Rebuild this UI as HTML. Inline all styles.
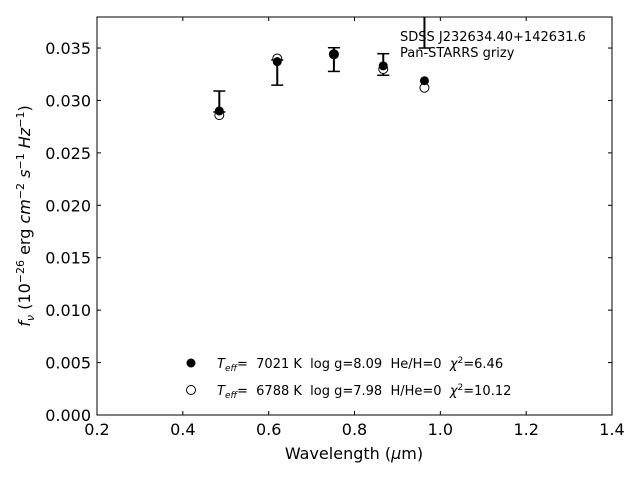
<!DOCTYPE html>
<html><head><meta charset="utf-8"><style>
body{margin:0;background:#fff}
svg{font-family:"DejaVu Sans","Liberation Sans",sans-serif}
text{white-space:pre}
</style></head><body>
<svg id="chart" width="640" height="480">
<rect x="0" y="0" width="640" height="480" fill="#fff"/>
<g id="marks"></g>
<rect x="97" y="17" width="515" height="398" fill="none" stroke="#000" stroke-width="1"/>
<g id="ticks"></g>
<text x="354" y="459" font-size="16" text-anchor="middle">Wavelength (<tspan font-style="italic">μ</tspan>m)</text>
<text transform="translate(30,216) rotate(-90)" font-size="16" text-anchor="middle"><tspan font-style="italic">f</tspan><tspan font-style="italic" font-size="11" dy="4">ν</tspan><tspan dy="-4"> (10</tspan><tspan font-size="11" dy="-6">−26</tspan><tspan dy="6"> erg </tspan><tspan font-style="italic">cm</tspan><tspan font-size="11" dy="-6">−2</tspan><tspan dy="6"> </tspan><tspan font-style="italic">s</tspan><tspan font-size="11" dy="-6">−1</tspan><tspan dy="6"> </tspan><tspan font-style="italic">Hz</tspan><tspan font-size="11" dy="-6">−1</tspan><tspan dy="6">)</tspan></text>
<text x="400" y="41" font-size="13">SDSS J232634.40+142631.6</text>
<text x="400" y="57" font-size="13">Pan-STARRS grizy</text>
<g>
<circle cx="191" cy="363" r="4.5" fill="#000"/>
<text x="217" y="368" font-size="13"><tspan font-style="italic">T</tspan><tspan font-style="italic" font-size="9" dy="3">eff</tspan><tspan dy="-3">=  7021 K  log g=8.09  He/H=0  </tspan><tspan font-style="italic">χ</tspan><tspan font-size="9" dy="-5">2</tspan><tspan dy="5">=6.46</tspan></text>
<circle cx="191" cy="390" r="4.5" fill="#fff" stroke="#000"/>
<text x="217" y="395" font-size="13"><tspan font-style="italic">T</tspan><tspan font-style="italic" font-size="9" dy="3">eff</tspan><tspan dy="-3">=  6788 K  log g=7.98  H/He=0  </tspan><tspan font-style="italic">χ</tspan><tspan font-size="9" dy="-5">2</tspan><tspan dy="5">=10.12</tspan></text>
</g>
</svg>
<script>
const wavelengths=[0.485,0.620,0.752,0.867,0.963];
const obsFlux=[0.0299,0.03266,0.0339,0.03343,0.0380];
const obsErr=[0.0010,0.0012,0.00113,0.00103,0.0030];
const modelHe=[0.0290,0.0337,0.03445,0.0333,0.03188];
const modelH=[0.0286,0.0340,0.0344,0.0330,0.03121];
const xTicks=[0.2,0.4,0.6,0.8,1.0,1.2,1.4];
const yTicks=[0,0.005,0.010,0.015,0.020,0.025,0.030,0.035];
const X0=97,X1=612,Y0=415,Y1=17,XMIN=0.2,XMAX=1.4,YMIN=0,YMAX=0.03796;
const sx=v=>X0+(v-XMIN)/(XMAX-XMIN)*(X1-X0);
const sy=v=>Y0-(v-YMIN)/(YMAX-YMIN)*(Y0-Y1);
const NS='http://www.w3.org/2000/svg';
function mk(p,t,a){const e=document.createElementNS(NS,t);for(const k in a)e.setAttribute(k,a[k]);p.appendChild(e);return e;}
const marks=document.getElementById('marks'),ticks=document.getElementById('ticks');
const clip=v=>Math.max(Y1,Math.min(Y0,v));
wavelengths.forEach((w,i)=>{
 const x=sx(w),t=sy(obsFlux[i]+obsErr[i]),b=sy(obsFlux[i]-obsErr[i]);
 const g=mk(marks,'g',{});
 
 
 mk(g,'line',{x1:x,x2:x,y1:clip(t),y2:clip(b),stroke:'#000','stroke-width':2});
 if(t>=Y1)mk(g,'line',{x1:x-6,x2:x+6,y1:t,y2:t,stroke:'#000','stroke-width':1.5});
 mk(g,'line',{x1:x-6,x2:x+6,y1:b,y2:b,stroke:'#000','stroke-width':1.5});
 const o=mk(marks,'circle',{cx:x,cy:sy(modelH[i]),r:4.5,fill:'#fff',stroke:'#000'});
 
 
 const f=mk(marks,'circle',{cx:x,cy:sy(modelHe[i]),r:4.5,fill:'#000'});
 
 
});
xTicks.forEach(v=>{
 const x=sx(v);
 mk(ticks,'line',{x1:x,x2:x,y1:Y0,y2:Y0-4,stroke:'#000'});
 mk(ticks,'line',{x1:x,x2:x,y1:Y1,y2:Y1+4,stroke:'#000'});
 const t=mk(ticks,'text',{x:x,y:Y0+20,'font-size':16,'text-anchor':'middle'});
 
 
 t.textContent=v.toFixed(1);
});
yTicks.forEach(v=>{
 const y=sy(v);
 mk(ticks,'line',{x1:X0,x2:X0+4,y1:y,y2:y,stroke:'#000'});
 mk(ticks,'line',{x1:X1,x2:X1-4,y1:y,y2:y,stroke:'#000'});
 const t=mk(ticks,'text',{x:X0-6,y:y+6,'font-size':16,'text-anchor':'end'});
 
 
 t.textContent=v.toFixed(3);
});
</script>
</body></html>
